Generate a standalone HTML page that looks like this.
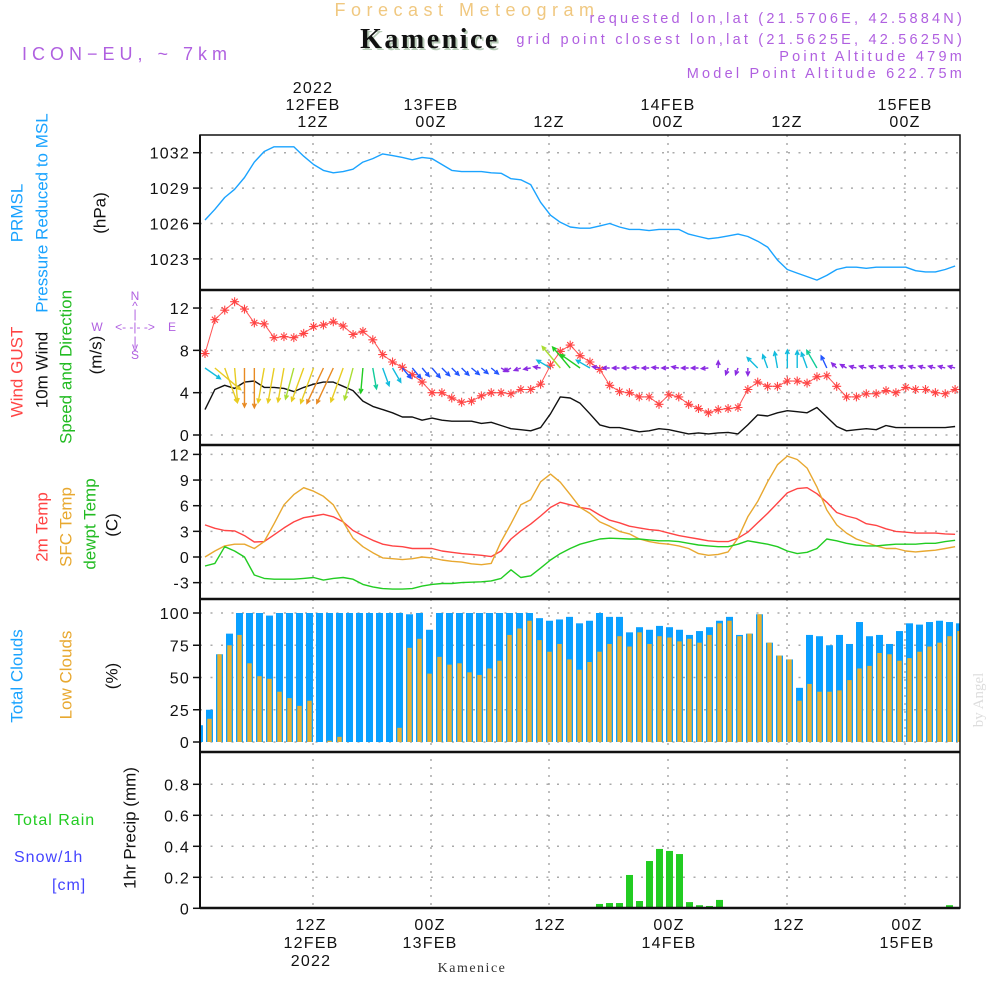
<!DOCTYPE html>
<html><head><meta charset="utf-8"><style>
html,body{margin:0;padding:0;background:#fff;}
svg{display:block;font-family:"Liberation Sans",sans-serif;}
.t{font-size:16px;fill:#111;letter-spacing:1.2px;}
.lab{font-size:17px;}
</style></head><body>
<svg id="chart" width="1000" height="1000" viewBox="0 0 1000 1000" xmlns="http://www.w3.org/2000/svg">
<rect x="0" y="0" width="1000" height="1000" fill="#fff"/>
<!-- header -->
<text x="467" y="16" text-anchor="middle" font-size="18" fill="#f0c880" letter-spacing="5.5">Forecast Meteogram</text>
<text x="22" y="60" font-size="18" fill="#b060e0" letter-spacing="5">ICON−EU, ~ 7km</text>
<g font-size="14.5" fill="#b060e0" text-anchor="end" letter-spacing="3.2">
<text x="965" y="23">requested lon,lat (21.5706E, 42.5884N)</text>
<text x="965" y="44">grid point closest lon,lat (21.5625E, 42.5625N)</text>
<text x="965" y="61">Point Altitude 479m</text>
<text x="965" y="78">Model Point Altitude 622.75m</text>
</g>
<rect x="350" y="24" width="162" height="30" fill="#fff"/>
<text x="432" y="50" text-anchor="middle" font-size="28" font-weight="bold" font-family="Liberation Serif, serif" fill="#b8ccb8" letter-spacing="2.5">Kamenice</text>
<text x="430" y="48" text-anchor="middle" font-size="28" font-weight="bold" font-family="Liberation Serif, serif" fill="#111" letter-spacing="2.5">Kamenice</text>
<!-- top time labels -->
<g class="t" text-anchor="middle">
<text x="313" y="93">2022</text><text x="313" y="110">12FEB</text><text x="313" y="127">12Z</text>
<text x="431" y="110">13FEB</text><text x="431" y="127">00Z</text>
<text x="549" y="127">12Z</text>
<text x="668" y="110">14FEB</text><text x="668" y="127">00Z</text>
<text x="787" y="127">12Z</text>
<text x="905" y="110">15FEB</text><text x="905" y="127">00Z</text>
</g>
<g class="t" text-anchor="middle">
<text x="311" y="930">12Z</text><text x="311" y="948">12FEB</text><text x="311" y="966">2022</text>
<text x="430" y="930">00Z</text><text x="430" y="948">13FEB</text>
<text x="550" y="930">12Z</text>
<text x="669" y="930">00Z</text><text x="669" y="948">14FEB</text>
<text x="789" y="930">12Z</text>
<text x="907" y="930">00Z</text><text x="907" y="948">15FEB</text>
</g>
<text x="472" y="972" text-anchor="middle" font-size="14" font-family="Liberation Serif, serif" fill="#333" letter-spacing="1.5">Kamenice</text>
<text transform="translate(983,700) rotate(-90)" text-anchor="middle" font-size="15" font-family="Liberation Serif, serif" fill="#ddd">by Angel</text>
<!-- left rotated labels -->
<g class="lab" text-anchor="middle" dominant-baseline="central">
<text transform="translate(17,213) rotate(-90)" fill="#1aa3ff">PRMSL</text>
<text transform="translate(42,213) rotate(-90)" fill="#1aa3ff">Pressure Reduced to MSL</text>
<text transform="translate(100,213) rotate(-90)" fill="#111">(hPa)</text>
<text transform="translate(17,372) rotate(-90)" fill="#ff4444">Wind GUST</text>
<text transform="translate(42,370) rotate(-90)" fill="#111">10m Wind</text>
<text transform="translate(66,367) rotate(-90)" fill="#22bb22">Speed and Direction</text>
<text transform="translate(96,355) rotate(-90)" fill="#111">(m/s)</text>
<text transform="translate(42,527) rotate(-90)" fill="#ff4444">2m Temp</text>
<text transform="translate(66,527) rotate(-90)" fill="#e8a830">SFC Temp</text>
<text transform="translate(90,524) rotate(-90)" fill="#22bb22">dewpt Temp</text>
<text transform="translate(112,525) rotate(-90)" fill="#111">(C)</text>
<text transform="translate(17,676) rotate(-90)" fill="#1aa3ff">Total Clouds</text>
<text transform="translate(66,675) rotate(-90)" fill="#e8a830">Low Clouds</text>
<text transform="translate(112,676) rotate(-90)" fill="#111">(%)</text>
<text transform="translate(130,828) rotate(-90)" fill="#111">1hr Precip (mm)</text>
</g>
<text x="14" y="825" font-size="16" fill="#22cc22" letter-spacing="1">Total  Rain</text>
<text x="14" y="862" font-size="16" fill="#4444ff" letter-spacing="1">Snow/1h</text>
<text x="52" y="890" font-size="16" fill="#4444ff" letter-spacing="1">[cm]</text>
<g fill="#b060e0" font-size="12" text-anchor="middle">
<text x="135" y="300">N</text><text x="135" y="310">^</text><text x="135" y="318">|</text>
<text x="97" y="331">W</text><text x="135" y="331">&lt;- -|- -&gt;</text><text x="172" y="331">E</text>
<text x="135" y="345">|</text><text x="135" y="351">v</text><text x="135" y="359">S</text>
</g>
<g id="grid"></g>
<g id="marks"></g>
<g id="frame"></g>
<g id="ticks"></g>
</svg>
<script>
// ---- data (hourly, 01Z 12 Feb onwards) ----
const pressure = [1026.3,1027.2,1028.2,1028.9,1029.9,1031.2,1032.1,1032.5,1032.5,1032.5,1031.7,1031.0,1030.5,1030.3,1030.4,1030.6,1031.2,1031.5,1031.9,1031.75,1031.6,1031.4,1031.6,1031.5,1031.0,1030.5,1030.4,1030.4,1030.4,1030.3,1030.25,1029.8,1029.7,1029.3,1027.8,1026.7,1026.1,1025.7,1025.6,
1025.6,1025.8,1026.0,1025.7,1025.5,1025.5,1025.4,1025.5,1025.5,1025.5,1025.1,1024.9,1024.7,1024.8,1024.95,1025.1,1024.9,1024.5,1024.0,1022.9,1022.1,1021.8,1021.5,1021.2,1021.6,1022.1,1022.3,1022.3,1022.2,1022.3,1022.3,1022.3,1022.3,1022.0,1021.9,1021.9,1022.1,1022.4];
const gust = [7.7,10.9,11.8,12.6,11.9,10.6,10.5,9.2,9.3,9.2,9.6,10.25,10.4,10.7,10.3,9.5,9.8,9.0,7.6,6.9,6.4,5.7,5.0,4.0,4.0,3.5,3.1,3.2,3.7,4.0,4.0,3.9,4.3,4.3,4.8,6.6,7.9,8.5,7.5,
6.9,6.2,4.7,4.1,4.0,3.6,3.6,2.9,3.8,3.6,2.9,2.5,2.1,2.4,2.5,2.6,4.3,5.0,4.6,4.6,5.1,5.1,4.9,5.5,5.6,4.6,3.6,3.6,3.9,3.9,4.2,4.0,4.5,4.3,4.3,4.0,3.9,4.3];
const wind10m = [2.4,4.3,4.7,4.4,5.0,5.1,4.5,4.5,4.4,4.1,4.5,4.8,5.0,5.0,4.6,4.2,3.2,2.7,2.4,2.1,1.7,1.7,1.4,1.6,1.4,1.3,1.3,1.3,1.1,1.2,0.9,0.6,0.5,0.4,0.7,2.0,3.6,3.5,3.0,
2.0,0.95,0.7,0.7,0.5,0.3,0.4,0.6,0.5,0.3,0.1,0.2,0.1,0.2,0.25,0.1,0.95,1.9,1.8,2.1,2.3,2.2,2.1,2.6,1.7,0.8,0.4,0.5,0.6,0.5,0.9,0.7,0.7,0.7,0.7,0.7,0.7,0.8];
const windDir = [125,130,160,175,180,180,190,190,190,195,200,200,205,205,200,195,185,170,160,150,140,140,140,140,135,135,135,130,130,130,120,240,250,260,280,300,320,320,305,
300,280,270,270,270,275,270,275,270,280,270,270,265,0,200,200,180,315,340,350,0,0,340,330,335,315,300,285,285,285,285,285,285,285,285,285,285,285];
const temp2m = [3.75,3.36,3.1,3.05,2.5,1.75,1.8,2.6,3.4,4.1,4.6,4.8,5.0,4.7,4.1,3.1,2.5,1.95,1.5,1.3,1.2,1.0,1.0,1.0,0.7,0.55,0.4,0.3,0.2,0.05,0.7,2.1,3.05,3.85,4.8,5.8,6.4,6.1,5.8,
5.6,4.9,4.3,4.0,3.6,3.4,3.2,3.1,2.8,2.5,2.3,2.1,1.9,1.8,1.8,2.2,2.9,4.0,5.1,6.3,7.5,8.0,8.1,7.4,6.4,5.2,4.8,4.5,3.9,3.7,3.3,3.0,2.9,2.8,2.8,2.8,2.7,2.65];
const sfcTemp = [0.0,0.7,1.3,1.5,1.5,1.0,1.8,3.9,6.1,7.3,8.1,7.7,7.1,6.1,4.1,2.2,1.2,0.5,-0.1,-0.2,-0.3,-0.2,0,-0.1,-0.35,-0.5,-0.6,-0.8,-0.9,-0.75,1.8,3.9,6.1,6.7,8.8,9.7,8.75,7.3,5.8,
5.1,4.1,3.6,3.0,2.7,2.1,1.8,1.6,1.5,1.3,1.0,0.4,0.2,0.3,0.6,2.2,4.7,6.5,8.8,10.8,11.8,11.4,10.4,8.2,5.5,3.75,2.8,2.1,1.7,1.3,1.0,1.0,0.7,0.6,0.7,0.8,1.0,1.2];
const dewpt = [-1.05,-0.75,1.2,0.7,0,-2.1,-2.5,-2.6,-2.6,-2.6,-2.5,-2.4,-2.7,-2.5,-2.4,-2.6,-3.2,-3.5,-3.7,-3.75,-3.75,-3.7,-3.4,-3.2,-3.1,-3.1,-3.0,-2.95,-2.9,-2.8,-2.5,-1.5,-2.4,-2.2,-1.3,-0.35,0.4,1.0,1.5,
1.8,2.1,2.2,2.15,2.1,2.1,2.0,1.9,1.9,1.8,1.6,1.4,1.3,1.2,1.2,1.5,1.9,1.7,1.5,1.2,0.7,0.4,0.55,1.0,2.1,1.9,1.6,1.4,1.3,1.3,1.4,1.5,1.5,1.5,1.6,1.6,1.8,1.95];
const totalClouds = [13,25,68,84,100,100,100,98,100,100,100,100,100,100,100,100,100,100,100,100,100,99,100,87,100,100,100,100,100,100,100,100,100,100,96,94,95,97,92,
94,100,97,97,85,89,87,90,89,87,83,86,89,94,97,83,84,99,77,67,64,42,83,82,75,83,76,93,82,83,76,86,92,91,93,94,93,92];
const lowClouds = [0,18,68,75,83,61,51,49,39,34,28,32,0,1,4,0,0,0,0,0,11,73,80,53,66,60,61,54,52,57,63,83,88,94,79,70,76,64,56,
62,70,76,82,74,85,76,82,81,78,80,77,83,92,94,82,84,99,77,67,64,32,45,39,39,40,48,57,59,69,68,63,65,70,74,77,82,86];
const precip = [0,0,0,0,0,0,0,0,0,0,0,0,0,0,0,0,0,0,0,0,0,0,0,0,0,0,0,0,0,0,0,0,0,0,0,0,0,0,0,0,
0.028,0.034,0.034,0.215,0.047,0.305,0.383,0.37,0.35,0.04,0.02,0.015,0.054,0,0,0,0,0,0,0,0,0,0,0,0,0,0,0,0,0,0,0,0,0,0,0.02,0];
const pTicks = [1032,1029,1026,1023];
const wTicks = [12,8,4,0];
const tTicks = [12,9,6,3,0,-3];
const cTicks = [100,75,50,25,0];
const rTicks = [0.8,0.6,0.4,0.2,0];
const rTickLabels = ["0.8","0.6","0.4","0.2","0"];

// ---- scales ----
const xl = k => 205 + 9.87*k;
const xb = k => 199.5 + 10*k;
const yP = p => 152.7 + (1032-p)*11.8;
const yW = v => 435 - v*10.58;
const yT = t => 557 - t*8.55;
const yC = c => 742 - c*1.29;
const yR = r => 908.3 - r*155;
const L=200, R=960;
const NS="http://www.w3.org/2000/svg";
function mk(tag, attrs, parent){const e=document.createElementNS(NS,tag);for(const k in attrs)e.setAttribute(k,attrs[k]);parent.appendChild(e);return e;}
const grid=document.getElementById('grid'), marks=document.getElementById('marks'), frame=document.getElementById('frame'), ticks=document.getElementById('ticks');

const panels=[[135,290],[290,445],[445,599],[599,752],[752,908]];
[313,431,549,668,787,905].forEach(x=>{
  const l=mk('line',{x1:x,x2:x,y1:135,y2:908,stroke:'#aaa','stroke-width':1.5,'stroke-dasharray':'2,6'},grid);
  
  
});
function hgrid(vals, sc, labels, name){
  vals.forEach((v,i)=>{
    const y=sc(v);
    const g=mk('line',{x1:L,x2:R,y1:y,y2:y,stroke:'#aaa','stroke-width':1.5,'stroke-dasharray':'2,8.5'},grid);
    
    
    mk('line',{x1:193,x2:200,y1:y,y2:y,stroke:'#111','stroke-width':1.5},ticks);
    const t=mk('text',{x:190,y:y+6,'text-anchor':'end','class':'t'},ticks);
    t.textContent = labels? labels[i] : String(v);
    
    
  });
}
hgrid(pTicks,yP,null,'pressure');
hgrid(wTicks,yW,null,'wind');
hgrid(tTicks,yT,null,'temp');
hgrid(cTicks,yC,null,'cloud');
hgrid(rTicks,yR,rTickLabels,'precip');

const defs=mk('defs',{},document.getElementById('chart'));
panels.forEach((p,i)=>{const c=mk('clipPath',{id:'cp'+i},defs);mk('rect',{x:L,y:p[0],width:R-L,height:p[1]-p[0]},c);});

function line(arr, sx, sy, color, name, clip, w){
  const d=arr.map((v,k)=>(k?'L':'M')+sx(k).toFixed(1)+','+sy(v).toFixed(1)).join('');
  const p=mk('path',{d:d,fill:'none',stroke:color,'stroke-width':w||1.4,'clip-path':'url(#'+clip+')','stroke-linejoin':'round'},marks);
  
  
}
totalClouds.forEach((v,k)=>{
  const r=mk('rect',{x:xb(k)-3.5,y:yC(v),width:7,height:yC(0)-yC(v),fill:'#0aa0ff','clip-path':'url(#cp3)'},marks);
  
  
});
lowClouds.forEach((v,k)=>{
  if(v<=0) return;
  const r=mk('rect',{x:xb(k)-2.2,y:yC(v),width:4.4,height:yC(0)-yC(v),fill:'#e8b030','clip-path':'url(#cp3)'},marks);
  
  
});
precip.forEach((v,k)=>{
  if(v<=0) return;
  const r=mk('rect',{x:xb(k)-3.5,y:yR(v),width:7,height:yR(0)-yR(v),fill:'#22cc22','clip-path':'url(#cp4)'},marks);
  
  
});
line(pressure,xl,yP,'#1aa3ff','pressure-line','cp0');
line(temp2m,xl,yT,'#ff4444','temp-2m-line','cp2');
line(sfcTemp,xl,yT,'#e8a830','sfc-temp-line','cp2');
line(dewpt,xl,yT,'#22cc22','dewpt-line','cp2');
line(wind10m,xl,yW,'#111','wind-10m-line','cp1');
line(gust,xl,yW,'#ff5555','gust-line','cp1',1);
gust.forEach((v,k)=>{
  const x=xl(k), y=yW(v), s=4.5, d=3.0;
  const p=mk('path',{d:`M${x-s},${y}H${x+s}M${x},${y-s}V${y+s}M${x-d},${y-d}L${x+d},${y+d}M${x-d},${y+d}L${x+d},${y-d}`,stroke:'#ff4444','stroke-width':1.1},marks);
  
  
});
function wcol(s){ if(s<1.0) return '#8a2be2'; if(s<1.8) return '#2255ff'; if(s<2.6) return '#11bbdd'; if(s<3.0) return '#11cc99'; if(s<3.6) return '#22cc22'; if(s<4.3) return '#aadd33'; if(s<4.9) return '#e8cc22'; return '#e88a22'; }
windDir.forEach((dir,k)=>{
  const s=wind10m[k], len=Math.max(7, s*7.8);
  const a=dir*Math.PI/180;
  const x0=xl(k), y0=368;
  const x1=x0+Math.sin(a)*len, y1=y0-Math.cos(a)*len;
  const h=4.5, ha=0.45;
  const bx=-Math.sin(a), by=Math.cos(a);
  const lx=x1+h*(bx*Math.cos(ha)-by*Math.sin(ha)), ly=y1+h*(bx*Math.sin(ha)+by*Math.cos(ha));
  const rx=x1+h*(bx*Math.cos(-ha)-by*Math.sin(-ha)), ry=y1+h*(bx*Math.sin(-ha)+by*Math.cos(-ha));
  const p=mk('path',{d:`M${x0},${y0}L${x1},${y1}M${lx},${ly}L${x1},${y1}L${rx},${ry}`,stroke:wcol(s),'stroke-width':1.4,fill:'none'},marks);
  
  
});
const fr=mk('rect',{x:L,y:135,width:R-L,height:773,fill:'none',stroke:'#111','stroke-width':1.5},frame);


[290,445,599,752,908].forEach(y=>{
  const l=mk('line',{x1:L,x2:R,y1:y,y2:y,stroke:'#111','stroke-width':2.5},frame);
  
  
});
mk('line',{x1:L,x2:L,y1:135,y2:908,stroke:'#111','stroke-width':2},frame);
</script>
</body></html>
